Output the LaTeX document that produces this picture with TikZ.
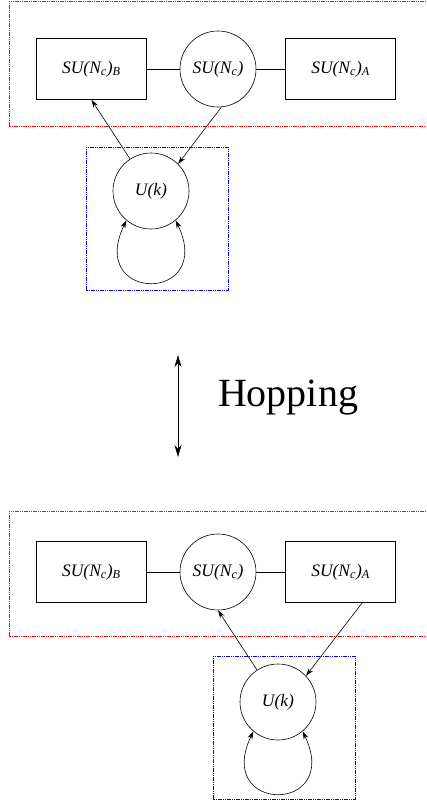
\documentclass[tikz,border=0pt]{standalone}
\usepackage{fontspec}
\setmainfont{Liberation Serif}
\usetikzlibrary{arrows.meta,positioning,calc}
\newcommand{\labelfont}{\fontsize{17.5}{20}\selectfont\itshape}

\begin{document}
\begin{tikzpicture}[
    x=1pt, y=-1pt, line width=0.6pt,
    group/.style={draw, minimum width=110pt, minimum height=61pt, inner sep=0pt, font=\labelfont},
    gauge/.style={draw, circle, minimum size=76pt, inner sep=0pt, font=\labelfont},
    sector/.style={dash pattern=on 1.2pt off 0.6pt, red},
    flavour/.style={dash pattern=on 1.2pt off 0.6pt, blue},
    bifund/.style={-{Stealth[length=8pt, width=5pt]}},
    adjoint/.style={{Stealth[length=8pt, width=5pt]}-{Stealth[length=8pt, width=5pt]}},
    hopping/.style={{Stealth[length=12pt, width=7pt]}-{Stealth[length=12pt, width=7pt]}}
]
    \useasboundingbox (0,0) rectangle (426,803);
    \clip (0,0) rectangle (426,803);

    % Upper configuration
    \draw[sector] (9,1) rectangle (440,126);
    \draw[flavour] (86,147) rectangle (228,290);
    \node[gauge] (su) at (218,69) {SU(N\textsubscript{c})};
    \node[group, left=33pt of su] (b) {SU(N\textsubscript{c})\textsubscript{B}};
    \node[group, right=29pt of su] (a) {SU(N\textsubscript{c})\textsubscript{A}};
    \node[gauge] (u) at (151,191) {U(k)};
    \draw (b) -- (su);
    \draw (su) -- (a);
    \draw[bifund] (u) -- (b.south);
    \draw[bifund] (su.275) -- (u.45);
    \draw[adjoint] (u.230) .. controls +(-40,83) and +(40,83) .. (u.310);

    % Hopping between the two
    \coordinate (hop top) at (178,355);
    \coordinate (hop bot) at (178,457);
    \draw[hopping] (hop top) -- (hop bot);
    \node[font=\fontsize{40}{44}\selectfont] (hop) at (288,398) {Hopping};

    % Lower configuration
    \draw[sector] (9,511) rectangle (440,636);
    \draw[flavour] (213,656) rectangle (355,799);
    \node[gauge] (su2) at (218,572) {SU(N\textsubscript{c})};
    \node[group, left=33pt of su2] (b2) {SU(N\textsubscript{c})\textsubscript{B}};
    \node[group, right=29pt of su2] (a2) {SU(N\textsubscript{c})\textsubscript{A}};
    \node[gauge] (u2) at (278,702) {U(k)};
    \draw (b2) -- (su2);
    \draw (su2) -- (a2);
    \draw[bifund] (u2) -- (su2.south);
    \draw[bifund] (a2.-55) -- (u2.43);
    \draw[adjoint] (u2.230) .. controls +(-40,83) and +(40,83) .. (u2.310);
\end{tikzpicture}
\end{document}
